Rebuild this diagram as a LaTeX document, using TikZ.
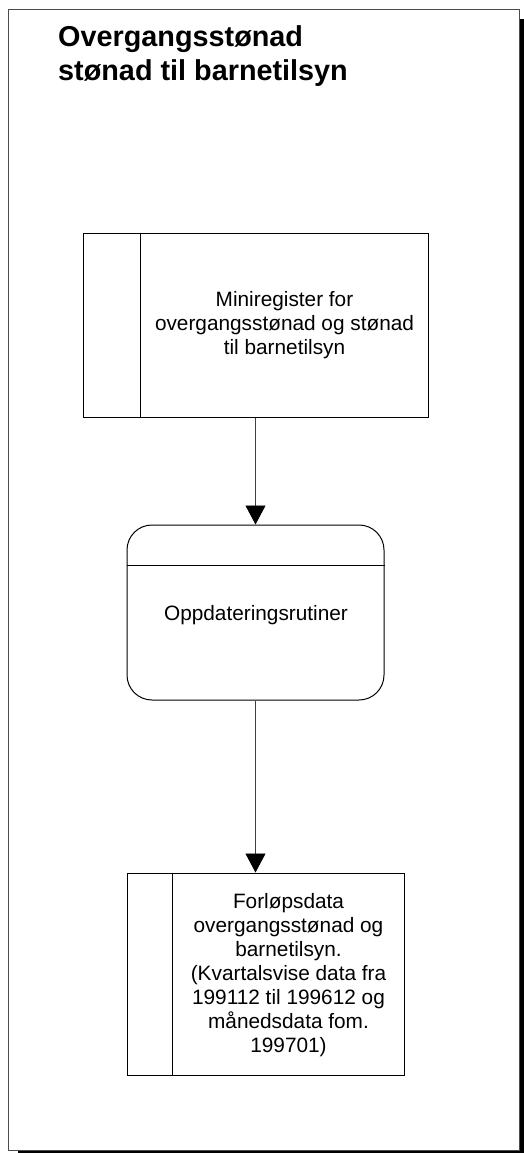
\documentclass[tikz,border=0pt]{standalone}
\usepackage{fontspec}
\setmainfont{Liberation Sans}
\usetikzlibrary{arrows.meta}
\begin{document}
\begin{tikzpicture}[x=1pt,y=-1pt,
  plainbox/.style={draw=black, line width=1pt, rectangle, inner sep=0pt},
  divider/.style={draw=black, line width=1pt},
  boxlabel/.style={align=center, inner sep=0pt, font=\fontsize{20.8}{24}\selectfont},
  flow/.style={draw=black!75, line width=0.9pt, -{Triangle[width=20pt,length=19pt,color=black]}},
  titletext/.style={anchor=base west, inner sep=0pt, font=\bfseries\fontsize{28.8}{34}\selectfont}]
\useasboundingbox (0,0) rectangle (524,1153);
\begin{scope}
\clip (0,0) rectangle (524,1153);
\fill[black] (18,19) rectangle (530,1160);
\end{scope}
\draw[fill=white, draw=black!70, line width=1pt] (8,10) rectangle (519,1150);
% title
\node[titletext] (title1) at (58,46.7) {Overgangsstønad};
\node[titletext] (title2) at (58,81) {stønad til barnetilsyn};
% register box
\node[plainbox, minimum width=345pt, minimum height=184pt] (reg) at (255.5,325) {};
\draw[divider] ([xshift=58pt]reg.north west) -- ([xshift=58pt]reg.south west);
\node[boxlabel] (regtext) at (284.5,325) {Miniregister for\\overgangsstønad og stønad\\til barnetilsyn};
% routine box
\node[plainbox, rounded corners=25pt, minimum width=257pt, minimum height=175pt] (rut) at (255.5,612.5) {};
\draw[divider] ([yshift=-41pt]rut.north west) -- ([yshift=-41pt]rut.north east);
\node[boxlabel] (ruttext) at (256,615) {Oppdateringsrutiner};
% data box
\node[plainbox, minimum width=277pt, minimum height=202pt] (data) at (265.5,974) {};
\draw[divider] ([xshift=46pt]data.north west) -- ([xshift=46pt]data.south west);
\node[boxlabel] (datatext) at (288.5,975) {Forløpsdata\\overgangsstønad og\\barnetilsyn.\\(Kvartalsvise data fra\\199112 til 199612 og\\månedsdata fom.\\199701)};
% connectors
\draw[flow] (reg.south) -- (rut.north);
\draw[flow] (rut.south) -- (rut.south |- data.north);
\end{tikzpicture}
\end{document}
